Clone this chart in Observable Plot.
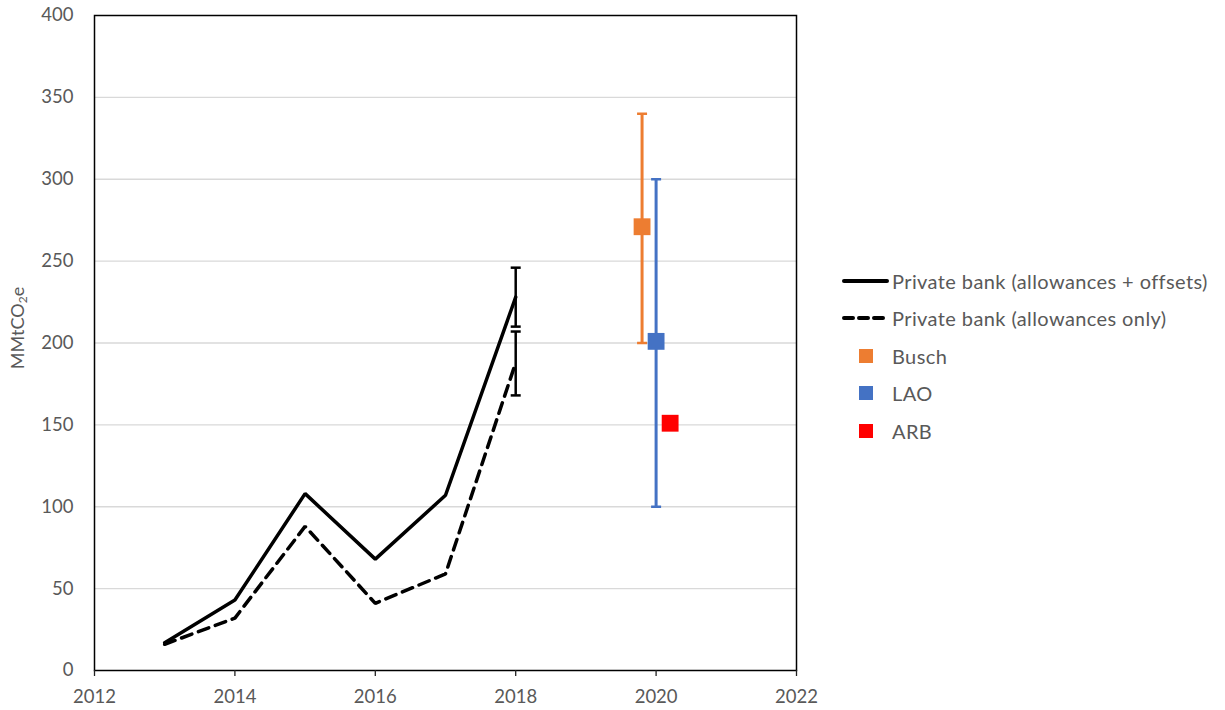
<!DOCTYPE html>
<html>
<head>
<meta charset="utf-8">
<script src="https://cdn.jsdelivr.net/npm/d3@7"></script>
<script src="https://cdn.jsdelivr.net/npm/@observablehq/plot@0.6"></script>
<style>
  html, body { margin: 0; padding: 0; background: #fff; }
  #wrap { position: relative; width: 1225px; height: 710px; font-family: Lato, "Open Sans", sans-serif; color: #595959; }
  #ylabel { position: absolute; left: 18px; top: 328px; transform: translate(-50%, -50%) rotate(-90deg); font-size: 18px; white-space: nowrap; }
  #ylabel sub { font-size: 12px; vertical-align: -3px; }
  #legend { position: absolute; left: 842px; top: 262px; font-size: 20px; letter-spacing: 0.4px; }
  .row { height: 37.5px; display: flex; align-items: center; }
  .row svg { margin-right: 3px; }
</style>
</head>
<body>
<div id="wrap">
  <div id="chart"></div>
  <div id="ylabel">MMtCO<sub>2</sub>e</div>
  <div id="legend"></div>
</div>
<script>
// ---- data ----
const years = [2013, 2014, 2015, 2016, 2017, 2018];
const bankTotal = [17, 43, 108, 68, 107, 228];   // allowances + offsets
const bankAllow = [16, 32, 88, 41, 59, 188];     // allowances only
const errYear = [2018, 2018];
const errLow = [210, 168];
const errHigh = [246, 207];

const estNames = ["Busch", "LAO", "ARB"];
const estX = [2019.8, 2020, 2020.2];
const estValue = [271, 201, 151];
const estLow = [200, 100, null];
const estHigh = [340, 300, null];
const estColors = ["#ED7D31", "#4472C4", "#FF0000"];

const xTicks = [2012, 2014, 2016, 2018, 2020, 2022];
const yTicks = [0, 50, 100, 150, 200, 250, 300, 350, 400];

const legendLines = ["Private bank (allowances + offsets)", "Private bank (allowances only)"];

// ---- tables ----
const total = years.map((x, i) => ({x, y: bankTotal[i]}));
const allow = years.map((x, i) => ({x, y: bankAllow[i]}));
const bankErr = errYear.map((x, i) => ({x, lo: errLow[i], hi: errHigh[i]}));
const est = estNames.map((n, i) => ({name: n, x: estX[i], y: estValue[i], lo: estLow[i], hi: estHigh[i], color: estColors[i]}));
const estErr = est.filter(d => d.lo != null);

const cap = {draw(ctx, size) { const w = Math.sqrt(size / Math.PI); ctx.moveTo(-w, 0); ctx.lineTo(w, 0); }};
const capMarks = (data, stroke) => [
  Plot.dot(data, {x: "x", y: "lo", symbol: cap, r: 5, stroke, strokeWidth: 2.5, fill: "none"}),
  Plot.dot(data, {x: "x", y: "hi", symbol: cap, r: 5, stroke, strokeWidth: 2.5, fill: "none"})
];

const chart = Plot.plot({
  width: 1225,
  height: 710,
  marginLeft: 94,
  marginRight: 429,
  marginTop: 15,
  marginBottom: 40,
  style: {fontFamily: "Lato, 'Open Sans', sans-serif", fontSize: "18px", color: "#595959", background: "white"},
  x: {domain: [2012, 2022]},
  y: {domain: [0, 400]},
  marks: [
    Plot.gridY(yTicks.filter(t => t > 0 && t < 400), {stroke: "#d9d9d9", strokeOpacity: 1, strokeWidth: 1.3}),
    Plot.frame({stroke: "black", strokeWidth: 1.5}),
    Plot.axisX({ticks: xTicks, tickFormat: d => String(d), tickSize: 6, tickPadding: 13, stroke: "#222", strokeWidth: 1.3, fill: "#595959", fontSize: 18.5, label: null}),
    Plot.axisY({ticks: yTicks, tickSize: 0, tickPadding: 21, fill: "#595959", fontSize: 18.5, label: null}),
    // private bank lines
    Plot.line(total, {x: "x", y: "y", stroke: "black", strokeWidth: 3.5, strokeLinejoin: "miter"}),
    Plot.line(allow, {x: "x", y: "y", stroke: "black", strokeWidth: 3.5, strokeDasharray: "11,7", strokeLinejoin: "miter"}),
    // 2018 error bars
    Plot.ruleX(bankErr, {x: "x", y1: "lo", y2: "hi", stroke: "black", strokeWidth: 2.5}),
    ...capMarks(bankErr, "black"),
    // estimate error bars
    Plot.ruleX(estErr, {x: "x", y1: "lo", y2: "hi", stroke: "color", strokeWidth: 3}),
    ...capMarks(estErr, d => d.color),
    // estimates
    Plot.dot(est, {x: "x", y: "y", symbol: "square", r: 9.5, fill: "color", stroke: "none"})
  ]
});
document.getElementById("chart").appendChild(chart);

// ---- legend ----
const legend = document.getElementById("legend");
legendLines.forEach((label, i) => {
  const row = document.createElement("div");
  row.className = "row";
  row.innerHTML = `<svg width="47" height="10"><line x1="2" y1="5" x2="45" y2="5" stroke="black" stroke-width="4" ${i === 1 ? 'stroke-dasharray="9,6" stroke-linecap="round"' : 'stroke-linecap="round"'}/></svg><span>${label}</span>`;
  legend.appendChild(row);
});
estNames.forEach((name, i) => {
  const row = document.createElement("div");
  row.className = "row";
  row.innerHTML = `<svg width="47" height="14"><rect x="17" y="0" width="14" height="14" fill="${estColors[i]}"/></svg><span>${name}</span>`;
  legend.appendChild(row);
});
</script>
</body>
</html>
